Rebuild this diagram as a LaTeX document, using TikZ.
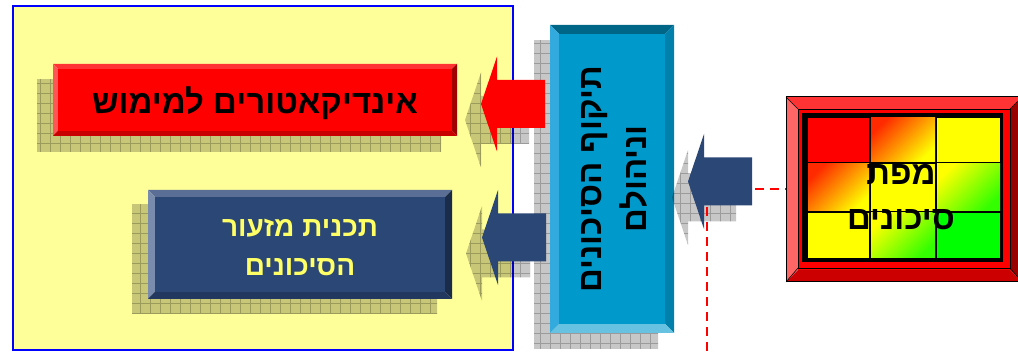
\documentclass[tikz,border=0pt]{standalone}
\usepackage{fontspec}
\usepackage[rgb]{xcolor}
\newfontfamily\hebfont[Script=Hebrew]{Liberation Sans}
\TeXXeTstate=1

\definecolor{panelfill}{HTML}{FFFF99}
\definecolor{panelline}{HTML}{0000FF}
% red box
\definecolor{indface}{HTML}{FF0000}
\definecolor{indtop}{HTML}{FF3333}
\definecolor{indleft}{HTML}{FF5555}
\definecolor{indright}{HTML}{A00000}
\definecolor{indbot}{HTML}{C80000}
% navy box and arrows
\definecolor{planface}{HTML}{2B4775}
\definecolor{plantop}{HTML}{5A6E96}
\definecolor{planleft}{HTML}{7A8CAD}
\definecolor{planright}{HTML}{1B2B4A}
\definecolor{planbot}{HTML}{22385F}
\definecolor{plantext}{HTML}{FFFF66}
% cyan box
\definecolor{valface}{HTML}{0099CC}
\definecolor{valtop}{HTML}{006688}
\definecolor{valleft}{HTML}{33AADD}
\definecolor{valright}{HTML}{0080AA}
\definecolor{valbot}{HTML}{66C2E0}
% map frame
\definecolor{frameface}{HTML}{FF0000}
\definecolor{frametop}{HTML}{FF3333}
\definecolor{frameleft}{HTML}{FF6666}
\definecolor{frameright}{HTML}{990000}
\definecolor{framebot}{HTML}{CC0000}
\definecolor{mapred}{HTML}{FF2A00}
\definecolor{mapyellow}{HTML}{FFFF00}
\definecolor{mapgreen}{HTML}{00FF00}

% x1 y1 x2 y2 bevel colour-prefix
\newcommand{\bevelbox}[6]{%
 \fill[#6top] (#1,#4) -- (#3,#4) -- (#3-#5,#4-#5) -- (#1+#5,#4-#5) -- cycle;
 \fill[#6left] (#1,#2) -- (#1+#5,#2+#5) -- (#1+#5,#4-#5) -- (#1,#4) -- cycle;
 \fill[#6right] (#3,#2) -- (#3,#4) -- (#3-#5,#4-#5) -- (#3-#5,#2+#5) -- cycle;
 \fill[#6bot] (#1,#2) -- (#3,#2) -- (#3-#5,#2+#5) -- (#1+#5,#2+#5) -- cycle;
 \fill[#6face] (#1+#5,#2+#5) rectangle (#3-#5,#4-#5);
}
% block arrow pointing left, tip x, centre y
\newcommand{\blockarrow}[2]{(#1,#2) -- ++(16,47.5) -- ++(0,-23.5) -- ++(48,0) -- ++(0,-48) -- ++(-48,0) -- ++(0,-23.5) -- cycle}
\newcommand{\gridshadow}[1]{%
 \begin{scope}
  \clip #1;
  \fill[shadowfill] (0,0) rectangle (1018,353);
  \draw[shadowgrid] (0,0) grid (1018,353);
 \end{scope}}

\begin{document}
\begin{tikzpicture}[x=1pt, y=1pt,
  shadowfill/.style={fill=black, opacity=0.22},
  shadowgrid/.style={black, opacity=0.22, line width=0.6pt, step=10},
  hebtext/.style={font=\hebfont\bfseries\fontsize{33}{45}\selectfont, inner sep=0pt, align=center},
  plantextstyle/.style={font=\hebfont\bfseries\fontsize{28}{39}\selectfont, inner sep=0pt, align=center},
  riskline/.style={red, line width=2.5pt, dash pattern=on 9pt off 6pt}]

\useasboundingbox (0,0) rectangle (1018,353);

%% yellow panel
\draw[panelline, fill=panelfill, line width=1.5pt] (13,3) rectangle (513,347);

%% shadows
\gridshadow{(37,201) rectangle (441,273)}
\gridshadow{(132,39) rectangle (437,148)}
\gridshadow{(534,4) rectangle (658,312)}
\gridshadow{\blockarrow{465}{233}}
\gridshadow{\blockarrow{466}{99.5}}

%% boxes on the panel
\bevelbox{53}{217}{457}{289}{5}{ind}
\bevelbox{148}{54}{452}{163}{7}{plan}

\path
(255,250) node[hebtext, text=black] (indicators) {\beginR אינדיקאטורים למימוש\endR};
\path
(300,106) node[plantextstyle, text=plantext] (plan) {\beginR תכנית מזעור\endR\\\beginR הסיכונים\endR};

%% arrows into the panel
\fill[indface] \blockarrow{481}{249};
\fill[planface] \blockarrow{482}{115.5};

%% validation box
\bevelbox{550}{20}{674}{328}{9}{val}
\path
(614,174) node[hebtext, rotate=90] (validation) {\beginR תיקוף הסיכונים\endR\\\beginR וניהולם\endR};

%% arrow from the map
\gridshadow{\blockarrow{672}{155.5}}
\fill[planface] \blockarrow{688}{171.5};

\coordinate (arrowtail) at (755,164);
\coordinate (arrowfoot) at (707,146);
\coordinate (pagefoot) at (707,0);

%% risk map
\bevelbox{786}{71}{1022}{256}{12}{frame}
\draw[black, line width=1pt] (786,71) rectangle (1022,256);
\draw[black, line width=0.6pt] (786,71) -- (798,85) (786,256) -- (798,244)
  (1022,71) -- (1010,85) (1022,256) -- (1010,244);
\draw[black, line width=0.6pt] (798,85) rectangle (1010,244);
\fill[black] (802,91) rectangle (1003,240);

\fill[red] (808,191) rectangle (869,235);
\shade[top color=mapred, bottom color=mapyellow, shading angle=45] (871,191) rectangle (935,235);
\fill[mapyellow] (937,191) rectangle (1000,235);
\shade[top color=mapred, bottom color=mapyellow, shading angle=45] (808,142) rectangle (869,189);
\fill[mapyellow] (871,142) rectangle (935,189);
\shade[top color=mapyellow, bottom color=mapgreen!80!yellow, shading angle=45] (937,142) rectangle (1000,189);
\fill[mapyellow] (808,95) rectangle (869,140);
\shade[top color=mapyellow, bottom color=mapgreen!80!yellow, shading angle=45] (871,95) rectangle (935,140);
\fill[mapgreen] (937,95) rectangle (1000,140);

\path
(901,156) node[hebtext] (riskmap) {\beginR מפת\endR\\\beginR סיכונים\endR};
\coordinate (mapwest) at (786,164);

%% dashed links
\draw[riskline] (arrowtail) -- (mapwest);
\draw[riskline] (arrowfoot) -- (pagefoot);

\end{tikzpicture}
\end{document}
